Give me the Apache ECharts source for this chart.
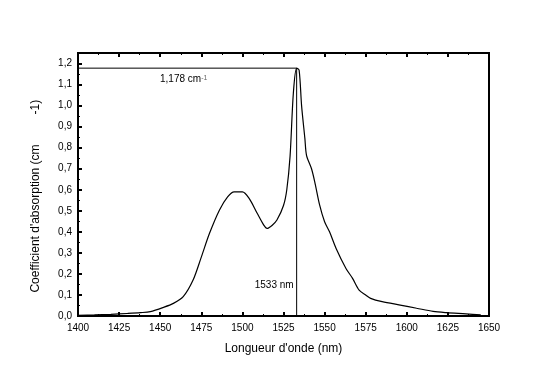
<!DOCTYPE html>
<html>
<head>
<meta charset="utf-8">
<script src="https://cdn.jsdelivr.net/npm/echarts@6/dist/echarts.min.js"></script>
<style>html,body{margin:0;padding:0;background:#fff}#c{width:538px;height:374px}</style>
</head>
<body>
<div id="c"></div>
<script>
// Wavelength (nm) and absorption coefficient (cm-1)
const wavelength = [1400,1410,1420,1430,1438,1444,1452,1458,1464,1470,1475,1480,1486,1491,1495,1500,1504,1509,1513,1515,1518,1521,1525,1527,1529,1531,1533,1534.5,1536,1538,1539,1542,1544,1547,1550,1553,1557,1563,1567,1571,1575,1578,1585,1596,1606,1616,1624,1636,1645];
const absorption = [0.003,0.005,0.008,0.012,0.016,0.021,0.041,0.06,0.092,0.171,0.28,0.393,0.503,0.566,0.59,0.59,0.56,0.488,0.432,0.416,0.43,0.456,0.525,0.6,0.76,1.06,1.178,1.168,1.0,0.844,0.764,0.701,0.638,0.527,0.448,0.40,0.321,0.226,0.179,0.123,0.10,0.084,0.068,0.052,0.037,0.022,0.016,0.01,0.005];
const peakWavelength = 1533;
const peakValue = 1.178;
const xTicks = [1400,1425,1450,1475,1500,1525,1550,1575,1600,1625,1650];
const yTicks = [0,0.1,0.2,0.3,0.4,0.5,0.6,0.7,0.8,0.9,1.0,1.1,1.2];

const chart = echarts.init(document.getElementById('c'), null, {renderer:'canvas'});
const font = 'Liberation Sans, Arial, sans-serif';
const curve = wavelength.map((w,i)=>[w,absorption[i]]);
const hLine = [[xTicks[0],peakValue],[peakWavelength,peakValue]];
const vLine = [[peakWavelength,0],[peakWavelength,peakValue]];
const tickStyle = {inside:true,length:4,lineStyle:{color:'#000',width:2}};
const minorStyle = {show:true,splitNumber:2,length:2,lineStyle:{color:'#000',width:1}};

chart.setOption({
  animation:false,
  grid:{left:78,right:49,top:53,bottom:58,show:true,borderColor:'#000',borderWidth:2,backgroundColor:'transparent'},
  xAxis:[{
    type:'value',min:xTicks[0],max:xTicks[xTicks.length-1],interval:25,
    name:"Longueur d'onde (nm)",nameLocation:'middle',nameGap:27,
    nameTextStyle:{fontFamily:font,fontSize:12,color:'#000'},
    axisLine:{show:false},
    axisTick:tickStyle,minorTick:minorStyle,
    axisLabel:{fontFamily:font,fontSize:10,color:'#000',margin:7,formatter:v=>String(v)},
    splitLine:{show:false}
  },{
    type:'value',position:'top',min:xTicks[0],max:xTicks[xTicks.length-1],interval:25,
    axisLine:{show:false},
    axisTick:tickStyle,minorTick:minorStyle,
    axisLabel:{show:false},splitLine:{show:false}
  }],
  yAxis:[{
    type:'value',min:0,max:1.25,interval:0.1,
    name:"Coefficient d'absorption (cm         -1)\u00a0\u00a0\u00a0\u00a0\u00a0\u00a0\u00a0",nameLocation:'middle',nameGap:36,
    nameTextStyle:{fontFamily:font,fontSize:12,color:'#000'},
    axisLine:{show:false},
    axisTick:tickStyle,minorTick:minorStyle,
    axisLabel:{fontFamily:font,fontSize:10,color:'#000',margin:6,
      showMaxLabel:false,
      formatter:v=>v.toFixed(1).replace('.',',')},
    splitLine:{show:false}
  }],
  series:[
    {type:'line',data:curve,showSymbol:false,smooth:0.3,lineStyle:{color:'#000',width:1.2}},
    {type:'line',data:hLine,showSymbol:false,lineStyle:{color:'#000',width:1}},
    {type:'line',data:vLine,showSymbol:false,lineStyle:{color:'#000',width:1}}
  ]
});

const pHL = chart.convertToPixel({gridIndex:0},[xTicks[0],peakValue]);
const pV = chart.convertToPixel({gridIndex:0},[peakWavelength,0]);
chart.setOption({
  graphic:[
    {type:'text',left:pHL[0]+82,top:pHL[1]+6,style:{
      rich:{a:{fontFamily:font,fontSize:10,fill:'#000'},s:{fontFamily:font,fontSize:7,fill:'#666',verticalAlign:'top',padding:[0,0,4,0]}},
      text:'{a|1,178 cm}{s|-1}'}},
    {type:'text',right:538-pV[0]+3,top:pV[1]-36,style:{text:'1533 nm',fontFamily:font,fontSize:10,fill:'#000'}}
  ]
});
</script>
</body>
</html>
